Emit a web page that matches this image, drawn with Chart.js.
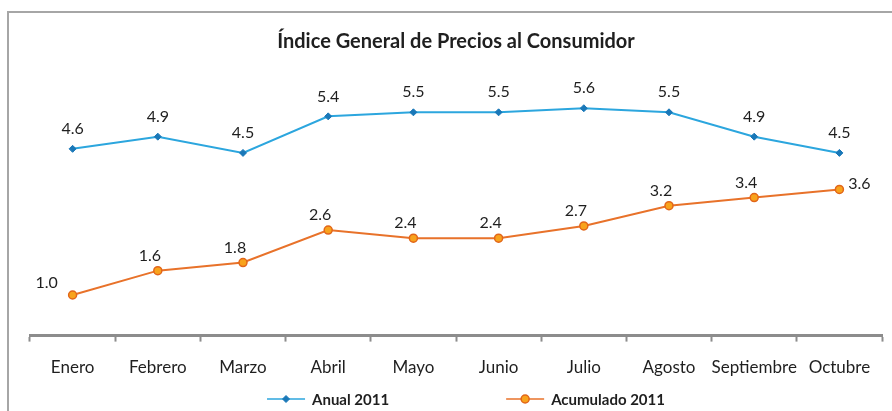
<!DOCTYPE html>
<html lang="es">
<head>
<meta charset="UTF-8">
<title>Índice General de Precios al Consumidor</title>
<style>
    html, body { margin: 0; padding: 0; background: #fff; }
    #wrap { width: 892px; height: 411px; }
</style>
<script src="https://cdn.jsdelivr.net/npm/chart.js@4"></script>
</head>
<body>
<div id="wrap"><canvas id="ipc" width="892" height="411"></canvas></div>
<script>
// datos
const meses = ['Enero', 'Febrero', 'Marzo', 'Abril', 'Mayo', 'Junio', 'Julio', 'Agosto', 'Septiembre', 'Octubre'];
const anual2011 = [4.6, 4.9, 4.5, 5.4, 5.5, 5.5, 5.6, 5.5, 4.9, 4.5];
const acumulado2011 = [1.0, 1.6, 1.8, 2.6, 2.4, 2.4, 2.7, 3.2, 3.4, 3.6];

const FONT = 'Lato, "Open Sans", sans-serif';
const INK = '#1f1f1f';

// marco gris (borde superior e izquierdo)
const frame = {
    id: 'frame',
    beforeDraw(chart) {
        const ctx = chart.ctx;
        ctx.save();
        ctx.strokeStyle = '#a6a6a6';
        ctx.lineWidth = 2;
        ctx.beginPath();
        ctx.moveTo(8, chart.height);
        ctx.lineTo(8, 12);
        ctx.lineTo(chart.width, 12);
        ctx.stroke();
        ctx.restore();
    }
};

// etiquetas de valor sobre cada punto
const valueLabels = {
    id: 'valueLabels',
    afterDatasetsDraw(chart) {
        const ctx = chart.ctx;
        ctx.save();
        ctx.font = '16px ' + FONT;
        ctx.fillStyle = INK;
        ctx.textAlign = 'center';
        ctx.textBaseline = 'middle';
        chart.data.datasets.forEach((ds, i) => {
            const meta = chart.getDatasetMeta(i);
            const last = ds.data.length - 1;
            meta.data.forEach((pt, j) => {
                let dx = 0, dy = -20;
                if (ds.labelSide === 'upLeft') {
                    dx = -8; dy = -15;
                    if (j === 0) { dx = -26; dy = -12; }
                    if (j === last) { dx = 20; dy = -6; }
                }
                ctx.fillText(ds.data[j].toFixed(1), pt.x + dx, pt.y + dy);
            });
        });
        ctx.restore();
    }
};

// leyenda inferior: linea + marcador + texto en negrita
const bottomLegend = {
    id: 'bottomLegend',
    afterDraw(chart) {
        const ctx = chart.ctx;
        const lineLen = 38, gapText = 7, gapItems = 117;
        ctx.save();
        ctx.font = 'bold 15px ' + FONT;
        const items = chart.data.datasets.map(ds => ({
            ds: ds,
            w: lineLen + gapText + ctx.measureText(ds.label).width
        }));
        const total = items.reduce((s, it) => s + it.w, 0) + gapItems * (items.length - 1);
        let x = (chart.chartArea.left + chart.chartArea.right) / 2 - total / 2 + 10;
        const y = chart.height - 12;
        items.forEach(it => {
            const ds = it.ds;
            const cx = x + lineLen / 2;
            ctx.strokeStyle = ds.borderColor;
            ctx.globalAlpha = 0.75;
            ctx.lineWidth = 2;
            ctx.beginPath();
            ctx.moveTo(x, y);
            ctx.lineTo(x + lineLen, y);
            ctx.stroke();
            ctx.globalAlpha = 1;
            ctx.fillStyle = ds.pointBackgroundColor;
            ctx.strokeStyle = ds.pointBorderColor;
            ctx.lineWidth = ds.pointBorderWidth;
            ctx.beginPath();
            if (ds.pointStyle === 'circle') {
                ctx.arc(cx, y, ds.pointRadius, 0, Math.PI * 2);
            } else {
                const r = ds.pointRadius;
                ctx.moveTo(cx, y - r);
                ctx.lineTo(cx + r, y);
                ctx.lineTo(cx, y + r);
                ctx.lineTo(cx - r, y);
                ctx.closePath();
            }
            ctx.fill();
            ctx.stroke();
            ctx.fillStyle = INK;
            ctx.textAlign = 'left';
            ctx.textBaseline = 'middle';
            ctx.fillText(ds.label, x + lineLen + gapText, y + 1);
            x += it.w + gapItems;
        });
        ctx.restore();
    }
};

const ctx = document.getElementById('ipc').getContext('2d');
new Chart(ctx, {
    type: 'line',
    data: {
        labels: meses,
        datasets: [{
            label: 'Anual 2011',
            data: anual2011,
            borderColor: '#2ca6de',
            borderWidth: 2,
            tension: 0,
            pointStyle: 'rectRot',
            pointRadius: 3.5,
            pointBorderWidth: 1,
            pointBackgroundColor: '#1a78b8',
            pointBorderColor: '#1a78b8',
            labelSide: 'up'
        }, {
            label: 'Acumulado 2011',
            data: acumulado2011,
            borderColor: '#e8722a',
            borderWidth: 2,
            tension: 0,
            pointStyle: 'circle',
            pointRadius: 4,
            pointBorderWidth: 1.5,
            pointBackgroundColor: '#f8a31c',
            pointBorderColor: '#e2661a',
            labelSide: 'upLeft'
        }]
    },
    options: {
        responsive: false,
        animation: false,
        layout: { padding: { left: 30, right: 10, top: 0, bottom: 17 } },
        plugins: {
            legend: { display: false },
            tooltip: { enabled: false },
            title: {
                display: true,
                text: 'Índice General de Precios al Consumidor',
                color: INK,
                font: { family: FONT, size: 20, weight: 'bold' },
                padding: { top: 30, bottom: 38 }
            }
        },
        scales: {
            x: {
                offset: true,
                grid: {
                    offset: true,
                    drawOnChartArea: false,
                    drawTicks: true,
                    tickLength: 6,
                    tickColor: '#8c8c8c',
                    tickWidth: 2
                },
                border: { display: true, color: '#8c8c8c', width: 3 },
                ticks: {
                    color: INK,
                    font: { family: FONT, size: 17 },
                    padding: 16,
                    maxRotation: 0,
                    autoSkip: false
                }
            },
            y: { display: false, min: 0, max: 6 }
        }
    },
    plugins: [frame, valueLabels, bottomLegend]
});
</script>
</body>
</html>
